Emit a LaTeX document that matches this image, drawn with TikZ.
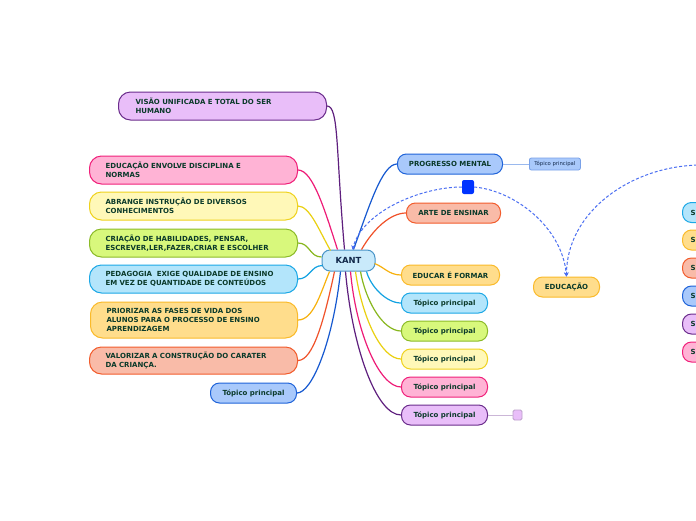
\documentclass[tikz,border=0pt]{standalone}
\usepackage{fontspec}
\setmainfont{DejaVu Sans}
\usetikzlibrary{calc,arrows.meta}
\definecolor{txt}{HTML}{0B3A2A}
\definecolor{kanttxt}{HTML}{12284A}
\definecolor{purF}{HTML}{E9BEF9}\definecolor{purD}{HTML}{6B2D8C}\definecolor{purL}{HTML}{5E1F7E}
\definecolor{pnkF}{HTML}{FFB3D5}\definecolor{pnkD}{HTML}{F0207A}\definecolor{pnkL}{HTML}{EE1B77}
\definecolor{yelF}{HTML}{FFF8B8}\definecolor{yelD}{HTML}{EFD21E}\definecolor{yelL}{HTML}{EAD010}
\definecolor{grnF}{HTML}{D8F87C}\definecolor{grnD}{HTML}{8CBB28}\definecolor{grnL}{HTML}{88B71E}
\definecolor{cyaF}{HTML}{B3E5FB}\definecolor{cyaD}{HTML}{1CA8E6}\definecolor{cyaL}{HTML}{12A2E2}
\definecolor{orgF}{HTML}{FFDD8C}\definecolor{orgD}{HTML}{FABA2A}\definecolor{orgL}{HTML}{F7B10D}
\definecolor{salF}{HTML}{F9BBA8}\definecolor{salD}{HTML}{F25C2C}\definecolor{salL}{HTML}{F0522A}
\definecolor{bluF}{HTML}{A9C9FB}\definecolor{bluD}{HTML}{1F63D9}\definecolor{bluL}{HTML}{1558D0}
\definecolor{kanF}{HTML}{C9EAFB}\definecolor{kanD}{HTML}{4A95C8}
\definecolor{dashc}{HTML}{4A6EF2}
\definecolor{sqF}{HTML}{0033FF}
\tikzset{
  base/.style={draw, line width=1pt, text=txt, font=\bfseries\fontsize{7}{8.7}\selectfont, inner ysep=0pt},
  big/.style={base, rounded corners=12pt, anchor=west, text width=176pt, inner xsep=16pt, minimum height=28pt, align=left},
  topic/.style={base, rounded corners=9pt, anchor=west, minimum height=20pt, inner xsep=0pt},
  link/.style={line width=1.2pt},
  dlink/.style={draw=dashc, line width=1pt, dash pattern=on 3pt off 2pt, -{Stealth[length=4pt,width=4.5pt]}},
}
\begin{document}
\begin{tikzpicture}[x=1pt,y=1pt]
\useasboundingbox (0,0) rectangle (696,-520);
\clip (0,0) rectangle (696,-520);
\fill[white] (0,0) rectangle (696,-520);

% left nodes
\node[big, fill=purF, draw=purD, inner xsep=17pt, text width=174pt] (v) at (118,-106) {VISÃO UNIFICADA E TOTAL DO SER\\HUMANO};
\node[big, fill=pnkF, draw=pnkD] (e1) at (89,-170) {EDUCAÇÃO ENVOLVE DISCIPLINA E\\NORMAS};
\node[big, fill=yelF, draw=yelD] (a) at (89,-206) {ABRANGE INSTRUÇÃO DE DIVERSOS\\CONHECIMENTOS};
\node[big, fill=grnF, draw=grnD] (c) at (89,-243) {CRIAÇÃO DE HABILIDADES, PENSAR,\\ESCREVER,LER,FAZER,CRIAR E ESCOLHER};
\node[big, fill=cyaF, draw=cyaD] (p) at (89,-279) {PEDAGOGIA\ \ EXIGE QUALIDADE DE ENSINO\\EM VEZ DE QUANTIDADE DE CONTEÚDOS};
\node[big, fill=orgF, draw=orgD, minimum height=36pt, text width=175pt] (pr) at (90,-320) {PRIORIZAR AS FASES DE VIDA DOS\\ALUNOS PARA O PROCESSO DE ENSINO\\APRENDIZAGEM};
\node[big, fill=salF, draw=salD, minimum height=27pt] (va) at (89,-360.5) {VALORIZAR A CONSTRUÇÃO DO CARATER\\DA CRIANÇA.};
\node[topic, fill=bluF, draw=bluD, minimum width=86pt] (tl) at (210,-393) {Tópico principal};

% central
\node[base, fill=kanF, draw=kanD, rounded corners=8pt, minimum width=53pt, minimum height=21pt, inner xsep=0pt, text=kanttxt, font=\bfseries\fontsize{8.4}{10}\selectfont] (kant) at (348.5,-260.5) {KANT};

% right nodes
\node[topic, fill=bluF, draw=bluD, minimum width=105pt] (pm) at (397,-164) {PROGRESSO MENTAL};
\node[draw=bluD!60, fill=bluF, line width=0.8pt, rounded corners=2pt, anchor=west, minimum width=51pt, minimum height=12pt, inner sep=0pt, text=kanttxt, font=\fontsize{5.3}{6}\selectfont] (tp) at (529,-164) {Tópico principal};
\node[fill=sqF, rounded corners=2pt, minimum width=12pt, minimum height=14pt, inner sep=0pt] (sq) at (468,-187) {};
\node[topic, fill=salF, draw=salD, minimum width=94pt] (ae) at (406,-213) {ARTE DE ENSINAR};
\node[topic, fill=orgF, draw=orgD, minimum width=98pt] (ef) at (401,-275) {EDUCAR É FORMAR};
\node[topic, fill=cyaF, draw=cyaD, minimum width=86pt] (t1) at (401,-303) {Tópico principal};
\node[topic, fill=grnF, draw=grnD, minimum width=86pt] (t2) at (401,-331) {Tópico principal};
\node[topic, fill=yelF, draw=yelD, minimum width=86pt] (t3) at (401,-359) {Tópico principal};
\node[topic, fill=pnkF, draw=pnkD, minimum width=86pt] (t4) at (401,-387) {Tópico principal};
\node[topic, fill=purF, draw=purD, minimum width=86pt] (t5) at (401,-415) {Tópico principal};
\node[draw=purD!45, fill=purF, line width=0.8pt, rounded corners=1.5pt, minimum width=9pt, minimum height=10pt, inner sep=0pt] (ps) at (517.5,-415) {};
\node[topic, fill=orgF, draw=orgD, minimum width=66pt] (edu) at (533,-287) {EDUCAÇÃO};

% right edge (cut off)
\foreach \n/\y/\f/\d in {r1/212.5/cyaF/cyaD, r2/240/orgF/orgD, r3/268/salF/salD, r4/296/bluF/bluD, r5/324/purF/purD, r6/352/pnkF/pnkD}{
  \node[base, fill=\f, draw=\d, rounded corners=9pt, anchor=west, minimum height=20pt, text width=40pt, inner xsep=8pt, align=left] (\n) at (682,-\y) {S};
}
\coordinate (offr) at (702,-165);

% connectors left
\draw[link, purL] (v.east) to[out=0,in=95,out distance=12pt,in distance=100pt] ($(kant.north west)+(23,0)$);
\draw[link, pnkL] (e1.east) to[out=0,in=108,out distance=15pt,in distance=40pt] ($(kant.north west)+(16,0)$);
\draw[link, yelL] (a.east) to[out=0,in=120,out distance=12pt,in distance=22pt] ($(kant.north west)+(9,-1)$);
\draw[link, grnL] (c.east) to[out=0,in=180,out distance=12pt,in distance=12pt] ($(kant.west)+(0,3.5)$);
\draw[link, cyaL] (p.east) to[out=0,in=180,out distance=12pt,in distance=12pt] ($(kant.west)+(1,-5)$);
\draw[link, orgL] (pr.east) to[out=0,in=-112,out distance=15pt,in distance=25pt] ($(kant.south west)+(8,0)$);
\draw[link, salL] (va.east) to[out=0,in=-102,out distance=15pt,in distance=50pt] ($(kant.south west)+(13,0)$);
\draw[link, bluL] (tl.east) to[out=0,in=-96,out distance=15pt,in distance=70pt] ($(kant.south west)+(19,0)$);

% connectors right
\draw[link, bluL] (pm.west) to[out=180,in=70,out distance=15pt,in distance=45pt] ($(kant.north west)+(32,0)$);
\draw[link, salL] (ae.west) to[out=180,in=60,out distance=15pt,in distance=25pt] ($(kant.north west)+(40,0)$);
\draw[link, orgL] ($(kant.east)+(-1,-3)$) to[out=-20,in=180,out distance=10pt,in distance=12pt] (ef.west);
\draw[link, cyaL] ($(kant.south west)+(45,0)$) to[out=-75,in=180,out distance=15pt,in distance=15pt] (t1.west);
\draw[link, grnL] ($(kant.south west)+(39,0)$) to[out=-80,in=180,out distance=30pt,in distance=18pt] (t2.west);
\draw[link, yelL] ($(kant.south west)+(34,0)$) to[out=-82,in=180,out distance=45pt,in distance=20pt] (t3.west);
\draw[link, pnkL] ($(kant.south west)+(29,0)$) to[out=-85,in=180,out distance=60pt,in distance=22pt] (t4.west);
\draw[link, purL] ($(kant.south west)+(24,0)$) to[out=-85,in=180,out distance=75pt,in distance=25pt] (t5.west);

\draw[line width=1pt, bluD!45] (pm.east) -- (tp.west);
\draw[line width=1pt, purD!35] (t5.east) -- (ps.west);

% dashed relations
\draw[dlink] (sq.west) to[out=180,in=75,out distance=40pt,in distance=40pt] ($(kant.north west)+(31,0)$);
\draw[dlink] (sq.east) to[out=-5,in=95,out distance=40pt,in distance=50pt] (edu.north);
\draw[dlink] (offr) to[out=180,in=90,out distance=70pt,in distance=65pt] (edu.north);
\end{tikzpicture}
\end{document}
